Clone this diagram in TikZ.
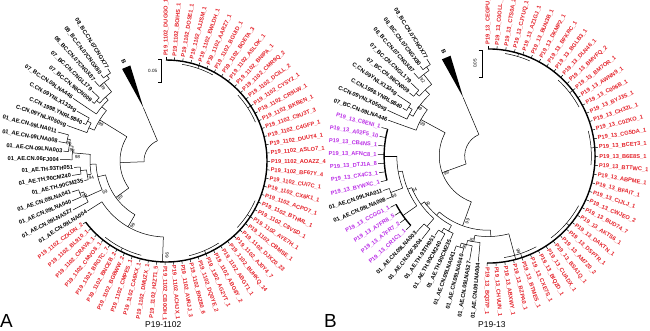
\documentclass[tikz,border=0pt]{standalone}
\usepackage{fontspec}
\setmainfont{Liberation Sans}
\definecolor{labred}{RGB}{228,32,40}
\definecolor{labpur}{RGB}{186,45,230}
\newcommand\pfa{P19\_1102\_}
\newcommand\pfb{P19\_13\_}
\newcommand\arcr[3]{\draw[br] ({#2}:#1) arc[start angle={#2},end angle={#3},radius=#1];}
\newcommand\radl[3]{\draw[br] ({#1}:#2) -- ({#1}:#3);}
\newcommand\bsL[4]{\node[bsl,rotate={#2-180}] (#1) at ({#2+2.6}:{#3+2.5}) {#4};}
\newcommand\bsR[4]{\node[bsl,rotate={#2}] (#1) at ({#2+2.6}:{#3+2.5}) {#4};}
\begin{document}
\begin{tikzpicture}[x=1bp,y=1bp,
  br/.style={line width=0.5bp},
  ringline/.style={line width=1.4bp},
  lab/.style={inner sep=0.9bp,font=\fontsize{5.7}{5.7}\selectfont\bfseries},
  bsl/.style={inner sep=0.2bp,font=\fontsize{4.6}{4.6}\selectfont},
  wedge/.style={fill=black},
  title/.style={inner sep=0,anchor=base west,font=\fontsize{8.5}{8.5}\selectfont},
  panel/.style={inner sep=0,anchor=base west,font=\fontsize{19}{19}\selectfont}]
\useasboundingbox (0,0) rectangle (650,330);

% ================= Tree A =================
\begin{scope}[shift={(166,169)}]
\arcr{22}{113}{182}
\radl{113}{22}{58}
\fill[wedge] (113:58) -- (110.5:102) -- (115.5:102) -- cycle;
\node[lab,anchor=east,rotate=-67] (Aclade) at (113:105) {B};
\radl{182}{22}{46}
\arcr{46}{148.2}{216}
% BC / C clade
\radl{148.2}{46}{78}
\arcr{78}{139.8}{156.7}
\radl{139.8}{78}{84} \arcr{84}{133.5}{146}
\radl{133.5}{84}{88} \arcr{88}{128.2}{138.9}
\radl{128.2}{88}{100} \arcr{100}{124.6}{131.75}
\radl{124.6}{100}{104} \arcr{104}{122.25}{127}
\radl{138.9}{88}{92} \arcr{92}{136.5}{141.25}
\radl{156.7}{78}{84} \arcr{84}{153.1}{160.25}
\radl{153.1}{84}{88} \arcr{88}{150.75}{155.5}
% 01_AE + samples
\radl{216}{46}{62} \arcr{62}{193}{240}
\radl{193}{62}{70} \arcr{70}{182.5}{204.2}
\radl{182.5}{70}{76} \arcr{76}{175}{190}
\radl{175}{76}{94} \arcr{94}{171}{179.25}
\radl{171}{94}{98} \arcr{98}{167.4}{174.5}
\radl{167.4}{98}{101} \arcr{101}{165}{169.75}
\radl{190}{76}{80} \arcr{80}{186.4}{193.5}
\radl{186.4}{80}{86} \arcr{86}{184}{188.75}
\radl{204.2}{70}{88} \arcr{88}{200.6}{207.75}
\radl{200.6}{88}{92} \arcr{92}{198.25}{203}
\radl{240}{62}{76} \arcr{76}{212.5}{268}
\radl{268}{76}{101}
\draw[br,ringline] (-142.75:101) arc[start angle=-142.75,end angle=90,radius=101];
\arcr{98}{80.5}{61.5} \radl{71}{98}{101}
\arcr{97.5}{42.5}{23.5} \radl{33}{97.5}{101}
\arcr{97.5}{-24}{-43} \radl{-33.5}{97.5}{101}
\arcr{97.5}{-57.25}{-76.25} \radl{-66.75}{97.5}{101}
\arcr{97.5}{-104.75}{-128.5} \radl{-116.6}{97.5}{101}
% black leaves
\foreach \k/\ra/\rb/\t in {69/104/109/08\_BC.CN.07CNGX77, 68/104/108/08\_BC.CN.07CNGX80,
  67/100/107/08\_BC.CN.07CNGX87, 66/92/102/07\_BC.CN.CNGL179, 65/92/95/07\_BC.CN.98CN009,
  64/84/112/07\_BC.CN.09LNA446, 63/88/102/C.CN.09YNLX133sg, 62/88/91/C.CN.1998.YNRL9840,
  61/84/105/C.CN.09YNLX050sg, 60/101/112/01\_AE.CN.09LNA011, 59/101/109/01\_AE.CN.09LNA008,
  58/98/103/01\_AE.CN.09LNA003, 57/94/106/01\_AE.CN.06FJ004, 56/86/92/01\_AE.TH.93TH051,
  55/86/95/01\_AE.TH.90CM240, 54/80/84/01\_AE.TH.90CM235, 53/92/99/01\_AE.CN.09LNA041,
  52/92/102/01\_AE.CN.09LNA040, 51/88/105/01\_AE.CN.09LNA527, 50/76/93/01\_AE.CN.09LNA004}{
  \pgfmathsetmacro\ang{90-4.75*\k}
  \draw[br] (\ang:\ra) -- (\ang:\rb) node[lab,anchor=east,rotate=\ang+180] (A\k) {\t};
}
% red leaves
\foreach \k/\t in {0/DUGGO\_1,1/BOIHS\_1,2/DOSE1\_1,3/AJJSM\_1,4/EWLDH\_1,5/AARZ7\_1,
  6/BGUID\_1,7/BOETA\_3,8/ASLOK\_1,9/BNIPA\_1,10/CMR9Q\_2,11/DCILL\_2,12/CYSY2\_1,
  13/CR9LW\_1,14/BKBEN\_1,15/C9U3T\_3,16/C4GFP\_1,17/DUUT4\_1,18/ASLO7\_1,19/AOAZZ\_4,
  20/BF67Y\_4,21/CUI7C\_1,22/CX6K1\_1,23/ACPO7\_1,24/BTHML\_1,25/C8VSD\_1,26/AYE7H\_1,
  27/CBMSE\_1,28/DJXZ0\_23,29/AJ0Y4\_7,30/BUHKQ\_14,31/ABGT1\_1,32/ABG8Y\_2,33/AG2YT\_1,
  34/DQ0YE\_2,35/BN280\_6,36/AVRJJ\_3,37/ACHJX\_1,38/CB0OH\_1}{
  \pgfmathsetmacro\ang{90-4.75*\k}
  \draw[br] (\ang:101) -- (\ang:104) node[lab,text=labred,anchor=west,rotate=\ang] (A\k) {\pfa\t};
}
\foreach \k/\t in {39/H2ZT1\_5,40/DMUZX\_1,41/CA6KX\_1,42/CMPES\_1,43/BGBWW\_2,44/BNCEB\_2,
  45/BRGTC\_7,46/CMVO8\_1,47/CRAVA\_1,48/BL910\_1,49/CZKDN\_2}{
  \pgfmathsetmacro\ang{90-4.75*\k}
  \draw[br] (\ang:101) -- (\ang:104) node[lab,text=labred,anchor=east,rotate=\ang+180] (A\k) {\pfa\t};
}
% bootstrap values
\bsL{Ab1}{148.2}{72}{99}
\bsL{Ab2}{128.2}{94}{99}
\bsL{Ab3}{167.4}{96}{99}
\bsL{Ab4}{171}{92}{93}
\bsL{Ab5}{175}{86}{98}
\bsL{Ab6}{190}{74}{94}
\bsL{Ab7}{200.6}{86}{99}
\bsL{Ab8}{204.2}{66}{99}
\bsL{Ab9}{216}{56}{99}
\bsL{Ab10}{240}{70}{99}
\bsR{Ab11}{-92}{92}{99}
\end{scope}
% scale bar A
\draw[br] (158,271) -- (161.5,271) -- (161.5,248) -- (158,248);
\node[bsl,anchor=east] (Asc) at (157.5,259.5) {0.05};

% ================= Tree B =================
\begin{scope}[shift={(488,174)},scale=1.06]
\arcr{22}{113}{200}
\radl{113}{22}{60}
\fill[wedge] (113:60) -- (110.5:101) -- (115.5:101) -- cycle;
\node[lab,anchor=east,rotate=-67] (Bclade) at (113:104) {B};
\radl{200}{22}{46}
\arcr{46}{151.5}{250}
% BC / C clade
\radl{151.5}{46}{72} \arcr{72}{142.7}{160.25}
\radl{142.7}{72}{80} \arcr{80}{133.5}{152}
\radl{133.5}{80}{86} \arcr{86}{128.2}{138.9}
\radl{128.2}{86}{98} \arcr{98}{124.6}{131.75}
\radl{124.6}{98}{102} \arcr{102}{122.25}{127}
\radl{138.9}{86}{90} \arcr{90}{136.5}{141.25}
\radl{152}{80}{84} \arcr{84}{148.4}{155.5}
\radl{148.4}{84}{88} \arcr{88}{146}{150.75}
% 01_AE + samples
\radl{250}{46}{70} \arcr{70}{229}{272}
\radl{229}{70}{74} \arcr{74}{215.8}{242.2}
\radl{242.2}{74}{80} \arcr{80}{238.6}{245.75}
\radl{238.6}{80}{84} \arcr{84}{236.25}{241}
\radl{215.8}{74}{78} \arcr{78}{202.5}{229.1}
\radl{229.1}{78}{88} \arcr{88}{226.75}{231.5}
\radl{202.5}{78}{82} \arcr{82}{190}{215}
\radl{215}{82}{98} \draw[br,ringline] (207.75:98) arc[start angle=207.75,end angle=222,radius=98];
\radl{190}{82}{86} \arcr{86}{180}{200.6}
\radl{200.6}{86}{98} \arcr{98}{198.25}{203}
\radl{180}{86}{98} \draw[br,ringline] (165:98) arc[start angle=165,end angle=193.5,radius=98];
\radl{272}{70}{76} \arcr{76}{260.6}{285}
\radl{260.6}{76}{82} \arcr{82}{256.4}{264.75}
\radl{256.4}{82}{86} \arcr{86}{252.9}{260}
\radl{252.9}{86}{90} \arcr{90}{250.5}{255.25}
\radl{285}{76}{101}
\draw[br,ringline] (-90.5:101) arc[start angle=-90.5,end angle=90,radius=101];
\arcr{98}{80.5}{66.25} \radl{73.4}{98}{101}
\arcr{97.5}{47.25}{28.25} \radl{37.75}{97.5}{101}
\arcr{97.5}{14}{-5} \radl{4.5}{97.5}{101}
\arcr{97.5}{-28.75}{-52.5} \radl{-40.6}{97.5}{101}
\arcr{97}{-62}{-81} \radl{-71.5}{97}{101}
% black and purple leaves
\foreach \k/\ra/\rb/\col/\t in {69/102/108/black/08\_BC.CN.07CNGX77, 68/102/106/black/08\_BC.CN.07CNGX80,
  67/98/105/black/08\_BC.CN.07CNGX87, 66/90/100/black/07\_BC.CN.CNGL179, 65/90/95/black/07\_BC.CN.98CN009,
  64/88/103/black/C.CN.09YNLX133sg, 63/88/92/black/C.CN.1998.YNRL9840, 62/84/104/black/C.CN.09YNLX050sg,
  61/72/100/black/07\_BC.CN.09LNA446,
  60/98/104/labpur/\pfb C8ENI\_1, 59/98/104/labpur/\pfb A02F5\_10, 58/98/104/labpur/\pfb CB4NS\_1,
  57/98/104/labpur/\pfb AFNC8\_1, 56/98/104/labpur/\pfb DTJ1A\_8, 55/98/104/labpur/\pfb CX4C3\_1,
  54/98/104/labpur/\pfb BYWXC\_1, 53/98/104/black/01\_AE.CN.09LNA011, 52/98/104/black/01\_AE.CN.09LNA008,
  51/98/104/labpur/\pfb CCGG1\_1, 50/98/104/labpur/\pfb A7FR8\_5, 49/98/104/labpur/\pfb A7FR7\_2,
  48/98/104/labpur/\pfb CR1C1\_1, 47/88/98/black/01\_AE.CN.09LNA003, 46/88/100/black/01\_AE.CN.06FJ004,
  45/84/90/black/01\_AE.TH.93TH051, 44/84/92/black/01\_AE.TH.90CM240, 43/80/86/black/01\_AE.TH.90CM235,
  42/90/95/black/01\_AE.CN.09LNA041, 41/90/95/black/01\_AE.CN.09LNA040, 40/86/100/black/01\_AE.CN.09LNA527,
  39/82/100/black/01\_AE.CN.09LNA004}{
  \pgfmathsetmacro\ang{90-4.75*\k}
  \draw[br] (\ang:\ra) -- (\ang:\rb) node[lab,text=\col,anchor=east,rotate=\ang+180] (B\k) {\t};
}
\foreach \k/\t in {0/CEGPU\_2,1/C0OLL\_2,2/CTS0A\_2,3/CJYUQ\_1,4/AZ1GJ\_1,5/BUN3B\_1,
  6/DKMP2\_1,7/BFKRC\_1,8/BGLB3\_1,9/DLN46\_1,10/BMVFQ\_2,11/BM7OR\_1,12/AWNN9\_1,
  13/C006B\_1,14/BYJ3S\_1,15/CH32L\_1,16/C0ZKO\_1,17/CG5DA\_1,18/BCET3\_1,19/B6E8S\_1,
  20/BTTWC\_1,21/ABPME\_1,22/BFAIT\_1,23/CIJLJ\_1,24/CWJEO\_2,25/BUD74\_7,26/AKTS6\_1,
  27/DAKTN\_1,28/DSPTR\_1,29/AM7Z0\_2,30/BSA1Q\_1,31/CUADX\_1,32/BIQ2D\_1,33/CXE7S\_1,
  34/BTMES\_1,35/BZPA0\_1,36/ABXWY\_1,37/CHVUN\_1,38/BQ37P\_1}{
  \pgfmathsetmacro\ang{90-4.75*\k}
  \draw[br] (\ang:101) -- (\ang:104) node[lab,text=labred,anchor=west,rotate=\ang] (B\k) {\pfb\t};
}
\bsL{Bb1}{151.5}{66}{99}
\bsL{Bb2}{128.2}{92}{92}
\bsL{Bb3}{142.7}{76}{89}
\bsL{Bb4}{200}{40}{99}
\bsL{Bb5}{200.6}{94}{99}
\bsL{Bb6}{202.5}{74}{94}
\bsL{Bb7}{215.8}{70}{99}
\bsL{Bb8}{250}{62}{99}
\bsL{Bb9}{252.9}{86}{99}
\bsL{Bb10}{256.4}{78}{91}
\bsR{Bb11}{-75}{92}{99}
\end{scope}
% scale bar B
\draw[br] (478.5,280) -- (482,280) -- (482,253) -- (478.5,253);
\node[bsl,anchor=south,rotate=90] (Bsc) at (477,266.5) {0.05};

% panel letters and titles
\node[panel] (pA) at (0,3) {A};
\node[panel] (pB) at (324,3) {B};
\node[title] (tA) at (145,2.5) {P19-1102};
\node[title] (tB) at (478,2.5) {P19-13};
\end{tikzpicture}
\end{document}
